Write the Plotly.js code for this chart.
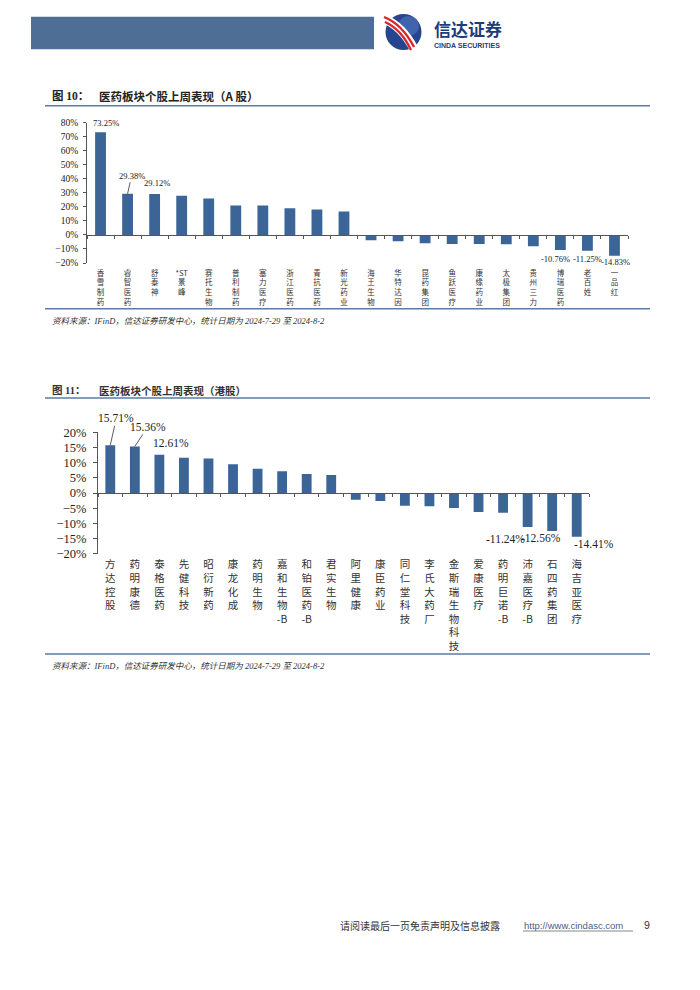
<!DOCTYPE html>
<html>
<head>
<meta charset="utf-8">
<script src="https://cdn.plot.ly/plotly-3.0.1.min.js"></script>
<style>
html,body{margin:0;padding:0;background:#fff;}
#page{width:700px;height:990px;}
</style>
</head>
<body>
<div id="page"></div>
<script>
// ---------- data ----------
const catsA = ['香雪制药','睿智医药','舒泰神','*ST景峰','赛托生物','普利制药','塞力医疗','浙江医药','青抗医药','新光药业',
               '海王生物','华特达因','昆药集团','鱼跃医疗','康缘药业','太极集团','贵州三力','博瑞医药','老百姓','一品红'];
const valsA = [73.25,29.38,29.12,27.9,25.9,21.0,20.9,19.0,18.1,16.7,
               -3.8,-4.5,-5.9,-6.4,-6.4,-6.7,-8.1,-10.76,-11.25,-14.83];
const catsH = ['方达控股','药明康德','泰格医药','先健科技','昭衍新药','康龙化成','药明生物','嘉和生物-B','和铂医药-B','君实生物',
               '阿里健康','康臣药业','同仁堂科技','李氏大药厂','金斯瑞生物科技','爱康医疗','药明巨诺-B','沛嘉医疗-B','石四药集团','海吉亚医疗'];
const valsH = [15.71,15.36,12.61,11.65,11.4,9.45,8.0,7.15,6.3,5.9,
               -2.2,-2.6,-4.2,-4.4,-4.95,-6.3,-6.5,-11.24,-12.56,-14.41];
const titleA = '图 10：';
const titleAText = '医药板块个股上周表现（A 股）';
const titleH = '图 11：';
const titleHText = '医药板块个股上周表现（港股）';
const sourceText = '资料来源：IFinD，信达证券研发中心，统计日期为 2024-7-29 至 2024-8-2';
const footerText = '请阅读最后一页免责声明及信息披露';
const footerUrl = 'http://www.cindasc.com';
const pageNo = '9';

// ---------- helpers ----------
const W = 700, H = 990;
const px = x => x / W;
const py = y => 1 - y / H;
const vert = s => (s.match(/[\x00-\x7F]+|./gu) || []).join('<br>');
const idx = a => a.map((_, i) => i);
const bounds = n => Array.from({length: n + 1}, (_, k) => k - 0.5);
const pct = v => v.toFixed(2) + '%';

const CJK = '"Noto Sans CJK SC", sans-serif';
const SERIF = '"Liberation Serif", "Times New Roman", serif';
const BAR = '#3b6497';
const AX = '#555555';
const RULE = '#5b7ba3';

// layout geometry (pixels)
const A = {x0: 87, x1: 628, yTop: 122.7, yBot: 263, r: [-20, 80]};
const Hk = {x0: 98, x1: 589, yTop: 432.3, yBot: 553.7, r: [-20, 20]};
const zeroPos = g => { const d0 = py(g.yBot), d1 = py(g.yTop); return d0 + (0 - g.r[0]) / (g.r[1] - g.r[0]) * (d1 - d0); };

const traces = [
  {type: 'bar', x: idx(catsA), y: valsA, xaxis: 'x', yaxis: 'y', marker: {color: BAR}, hoverinfo: 'skip'},
  {type: 'scatter', x: [], y: [], xaxis: 'x3', yaxis: 'y', hoverinfo: 'skip'},
  {type: 'bar', x: idx(catsH), y: valsH, xaxis: 'x2', yaxis: 'y2', marker: {color: BAR}, hoverinfo: 'skip'},
  {type: 'scatter', x: [], y: [], xaxis: 'x4', yaxis: 'y2', hoverinfo: 'skip'}
];

const shapes = [
  // header bar
  {type: 'rect', xref: 'paper', yref: 'paper', x0: px(31), x1: px(374), y0: py(49.3), y1: py(16.7), fillcolor: '#4e6e96', line: {width: 0}},
  // logo circle
  {type: 'circle', xref: 'paper', yref: 'paper', x0: px(385.5), x1: px(421.5), y0: py(50), y1: py(14), fillcolor: '#27458f', line: {width: 0}},
  {type: 'circle', xref: 'paper', yref: 'paper', x0: px(398), x1: px(419), y0: py(36), y1: py(16), fillcolor: '#3f63ad', line: {width: 0}},
  // title rules and source rules
  {type: 'line', xref: 'paper', yref: 'paper', x0: px(45), x1: px(650), y0: py(105.7), y1: py(105.7), line: {color: RULE, width: 1.4}},
  {type: 'line', xref: 'paper', yref: 'paper', x0: px(45), x1: px(650), y0: py(308.7), y1: py(308.7), line: {color: RULE, width: 1.4}},
  {type: 'line', xref: 'paper', yref: 'paper', x0: px(45), x1: px(650), y0: py(398), y1: py(398), line: {color: RULE, width: 1.4}},
  {type: 'line', xref: 'paper', yref: 'paper', x0: px(45), x1: px(650), y0: py(654), y1: py(654), line: {color: RULE, width: 1.4}},
  // footer url underline
  {type: 'line', xref: 'paper', yref: 'paper', x0: px(523), x1: px(633), y0: py(931), y1: py(931), line: {color: '#555', width: 0.7}}
];
// logo swoosh (red + white stripes)
const sw = (pts, color, w) => ({type: 'path', xref: 'paper', yref: 'paper',
  path: 'M ' + px(pts[0]) + ',' + py(pts[1]) + ' Q ' + px(pts[2]) + ',' + py(pts[3]) + ' ' + px(pts[4]) + ',' + py(pts[5]),
  line: {color: color, width: w}});
shapes.push(sw([384, 19, 402, 26, 414, 49], '#ffffff', 9));
shapes.push(sw([384, 17, 402, 24, 414, 47], '#d8262c', 2.4));
shapes.push(sw([385, 22, 401, 29, 411, 50], '#d8262c', 2.4));

const ann = [];
const txt = (x, y, text, size, opt) => ann.push(Object.assign({xref: 'paper', yref: 'paper', x: px(x), y: py(y), text: text,
  showarrow: false, xanchor: 'left', yanchor: 'middle', font: {family: CJK, size: size, color: '#222'}}, opt || {}));

// logo text
txt(432, 29, '<b>信达证券</b>', 17, {font: {family: CJK, size: 17, color: '#1d3c7c'}});
txt(432, 45.5, '<b>CINDA SECURITIES</b>', 7, {font: {family: '"Liberation Sans", Arial, sans-serif', size: 7, color: '#1d3c7c'}});

// titles
txt(50, 96, '<b>' + titleA + '</b>', 11.5, {font: {family: SERIF + ',' + CJK, size: 11.5, color: '#222'}});
txt(97, 96, '<b>' + titleAText + '</b>', 11.5, {font: {family: CJK, size: 11.5, color: '#222'}});
txt(50, 390.5, '<b>' + titleH + '</b>', 10.5, {font: {family: SERIF + ',' + CJK, size: 10.5, color: '#333'}});
txt(97, 390.5, '<b>' + titleHText + '</b>', 10.5, {font: {family: CJK, size: 10.5, color: '#333'}});

// sources
txt(50, 321, '<i>' + sourceText + '</i>', 8.5, {font: {family: SERIF + ',' + CJK, size: 8.5, color: '#333'}});
txt(50, 665.5, '<i>' + sourceText + '</i>', 8.5, {font: {family: SERIF + ',' + CJK, size: 8.5, color: '#333'}});

// footer
txt(338, 925, footerText, 10, {font: {family: CJK, size: 10, color: '#333'}});
txt(522, 925, footerUrl, 9.5, {font: {family: '"Liberation Sans", Arial, sans-serif', size: 9.5, color: '#4a5f85'}});
txt(642, 925, pageNo, 10.5, {font: {family: '"Liberation Sans", Arial, sans-serif', size: 10.5, color: '#333'}});

// data labels
const lab = (xa, ya, vals, i, size, o) => {
  const base = {xref: xa, yref: ya, x: i, y: vals[i], text: pct(vals[i]),
    font: {family: SERIF, size: size, color: '#222'}, xanchor: 'center', yanchor: 'middle'};
  if (o.arrow) Object.assign(base, {showarrow: true, ax: o.ax, ay: o.ay, arrowhead: 0, arrowwidth: 0.8, arrowcolor: '#333', standoff: 0, startstandoff: 0});
  else Object.assign(base, {showarrow: false, xshift: o.dx, yshift: o.dy});
  ann.push(base);
};
lab('x', 'y', valsA, 0, 8.5, {dx: 5, dy: 9});
lab('x', 'y', valsA, 1, 8.5, {arrow: true, ax: 4, ay: -18});
lab('x', 'y', valsA, 2, 8.5, {dx: 2, dy: 11});
lab('x', 'y', valsA, 17, 8.5, {dx: -5, dy: -9});
lab('x', 'y', valsA, 18, 8.5, {dx: 0, dy: -8});
lab('x', 'y', valsA, 19, 8.5, {dx: 1, dy: -6});
lab('x2', 'y2', valsH, 0, 11.5, {arrow: true, ax: 6, ay: -27});
lab('x2', 'y2', valsH, 1, 11.5, {arrow: true, ax: 13, ay: -19.5});
lab('x2', 'y2', valsH, 2, 11.5, {dx: 12, dy: 12});
lab('x2', 'y2', valsH, 17, 11.5, {dx: -22, dy: -12});
lab('x2', 'y2', valsH, 18, 11.5, {dx: -11, dy: -7});
lab('x2', 'y2', valsH, 19, 11.5, {dx: 17, dy: -7});

const catAxis = (g, n, cats, size, so) => ({
  domain: [px(g.x0), px(g.x1)], range: [-0.5, n - 0.5], tickmode: 'array', tickvals: idx(cats), ticktext: cats.map(vert),
  showline: false, ticks: '', showgrid: false, zeroline: false, fixedrange: true, tickangle: 0, ticklabelstandoff: so,
  tickfont: {family: CJK, size: size, color: '#333'}
});
const zeroAxis = (over, g, n) => ({
  overlaying: over, anchor: 'free', position: zeroPos(g), range: [-0.5, n - 0.5], tickmode: 'array', tickvals: bounds(n),
  ticks: 'outside', ticklen: 3, tickcolor: AX, tickwidth: 1, showticklabels: false, showline: true, linecolor: AX, linewidth: 1,
  showgrid: false, zeroline: false, fixedrange: true
});
const valAxis = (g, dtick, size, tl) => ({
  domain: [py(g.yBot), py(g.yTop)], range: g.r, dtick: dtick, tick0: 0, ticksuffix: '%', showline: true, linecolor: AX, linewidth: 1,
  ticks: 'outside', ticklen: tl, tickcolor: AX, showgrid: false, zeroline: false, fixedrange: true, ticklabelstandoff: tl,
  tickfont: {family: SERIF, size: size, color: '#222'}
});

const layout = {
  width: W, height: H, margin: {l: 0, r: 0, t: 0, b: 0}, paper_bgcolor: '#fff', plot_bgcolor: 'rgba(0,0,0,0)',
  showlegend: false, bargap: 0.6,
  xaxis: Object.assign(catAxis(A, catsA.length, catsA, 7.5, 4), {anchor: 'y'}),
  yaxis: Object.assign(valAxis(A, 10, 9.5, 3), {anchor: 'x'}),
  xaxis3: zeroAxis('x', A, catsA.length),
  xaxis2: Object.assign(catAxis(Hk, catsH.length, catsH, 10.5, 3), {anchor: 'y2'}),
  yaxis2: Object.assign(valAxis(Hk, 5, 12.5, 4), {anchor: 'x2'}),
  xaxis4: zeroAxis('x2', Hk, catsH.length),
  shapes: shapes, annotations: ann
};
Plotly.newPlot('page', traces, layout, {staticPlot: true, displayModeBar: false});
</script>
</body>
</html>
